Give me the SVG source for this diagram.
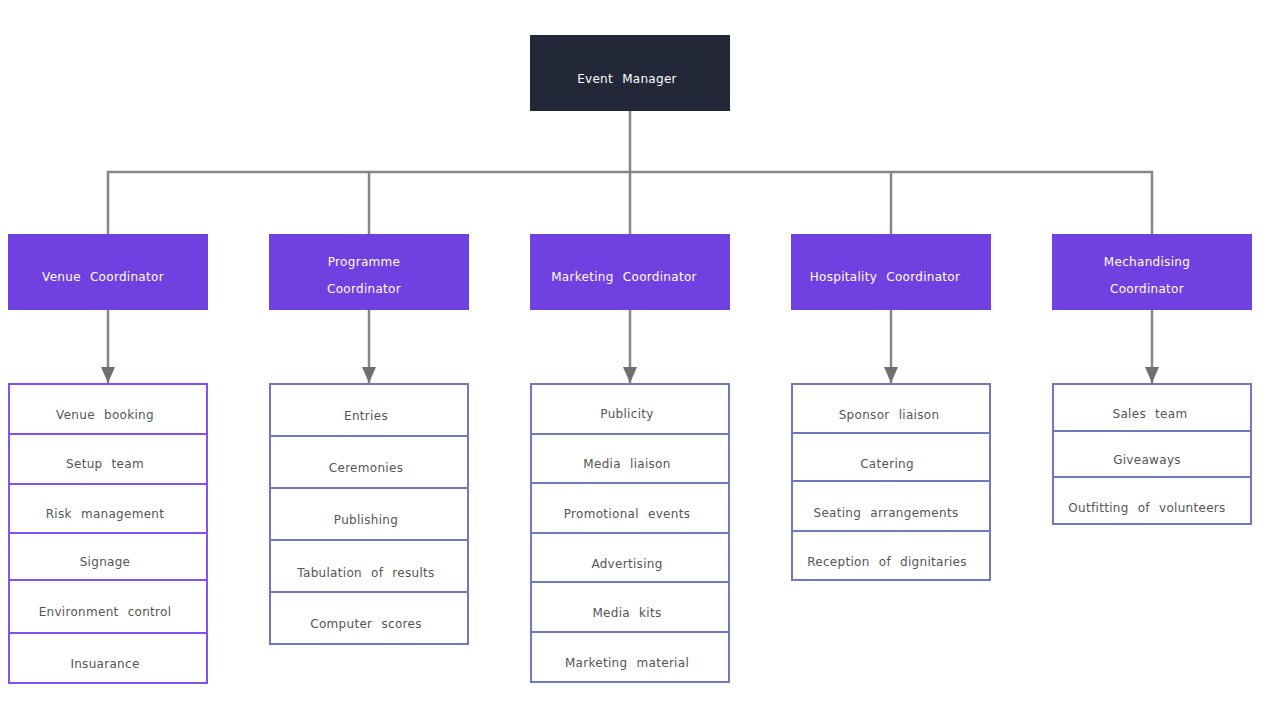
<svg xmlns="http://www.w3.org/2000/svg" width="1280" height="720" viewBox="0 0 1280 720">
<style>
.top{fill:#222838;}
.coord{fill:#7140E0;}
.wt{fill:#ffffff;font-family:"DejaVu Sans",sans-serif;font-size:12px;text-anchor:middle;word-spacing:5px;letter-spacing:0.3px;}
.item{fill:#ffffff;stroke:#7078C0;stroke-width:2;}
.itemv{fill:#ffffff;stroke:#8450F0;stroke-width:2;}
.gt{fill:#555555;font-family:"DejaVu Sans",sans-serif;font-size:12px;text-anchor:middle;word-spacing:5px;letter-spacing:0.3px;}
.conn{stroke:#868686;stroke-width:2.5;fill:none;}
</style>
<defs>
<marker id="arr" viewBox="0 0 10 10" refX="9" refY="5" markerWidth="6" markerHeight="6" markerUnits="userSpaceOnUse" orient="auto">
<path d="M0,0 L10,5 L0,10 z" fill="#707070"/>
</marker>
<marker id="ah" viewBox="0 0 16 14" refX="16" refY="7" markerWidth="16" markerHeight="14" markerUnits="userSpaceOnUse" orient="auto">
<path d="M0,0 L16,7 L0,14 z" fill="#707070"/>
</marker>
</defs>
<g id="connectors">
<path class="conn" d="M630,111 V234"/>
<path class="conn" d="M108,234 V172 H1152 V234"/>
<path class="conn" d="M369,172 V234"/>
<path class="conn" d="M891,172 V234"/>
<path class="conn" d="M108,310 V383" marker-end="url(#ah)"/>
<path class="conn" d="M369,310 V383" marker-end="url(#ah)"/>
<path class="conn" d="M630,310 V383" marker-end="url(#ah)"/>
<path class="conn" d="M891,310 V383" marker-end="url(#ah)"/>
<path class="conn" d="M1152,310 V383" marker-end="url(#ah)"/>
</g>
<g id="event-manager">
<rect class="top" x="530" y="35" width="200" height="76"/>
<text class="wt" x="627" y="83">Event Manager</text>
</g>
<g id="venue-coordinator">
<rect class="coord" x="8" y="234" width="200" height="76"/>
<text class="wt" x="103" y="281">Venue Coordinator</text>
</g>
<g id="programme-coordinator">
<rect class="coord" x="269" y="234" width="200" height="76"/>
<text class="wt" x="364" y="266">Programme</text>
<text class="wt" x="364" y="293">Coordinator</text>
</g>
<g id="marketing-coordinator">
<rect class="coord" x="530" y="234" width="200" height="76"/>
<text class="wt" x="624" y="281">Marketing Coordinator</text>
</g>
<g id="hospitality-coordinator">
<rect class="coord" x="791" y="234" width="200" height="76"/>
<text class="wt" x="885" y="281">Hospitality Coordinator</text>
</g>
<g id="merchandising-coordinator">
<rect class="coord" x="1052" y="234" width="200" height="76"/>
<text class="wt" x="1147" y="266">Mechandising</text>
<text class="wt" x="1147" y="293">Coordinator</text>
</g>
<g id="venue-list">
<rect class="itemv" x="9" y="384" width="198" height="50"/>
<text class="gt" x="105" y="419">Venue booking</text>
<rect class="itemv" x="9" y="434" width="198" height="50"/>
<text class="gt" x="105" y="468">Setup team</text>
<rect class="itemv" x="9" y="484" width="198" height="49"/>
<text class="gt" x="105" y="518">Risk management</text>
<rect class="itemv" x="9" y="533" width="198" height="47"/>
<text class="gt" x="105" y="566">Signage</text>
<rect class="itemv" x="9" y="580" width="198" height="53"/>
<text class="gt" x="105" y="616">Environment control</text>
<rect class="itemv" x="9" y="633" width="198" height="50"/>
<text class="gt" x="105" y="668">Insuarance</text>
</g>
<g id="programme-list">
<rect class="item" x="270" y="384" width="198" height="52"/>
<text class="gt" x="366" y="420">Entries</text>
<rect class="item" x="270" y="436" width="198" height="52"/>
<text class="gt" x="366" y="472">Ceremonies</text>
<rect class="item" x="270" y="488" width="198" height="52"/>
<text class="gt" x="366" y="524">Publishing</text>
<rect class="item" x="270" y="540" width="198" height="52"/>
<text class="gt" x="366" y="577">Tabulation of results</text>
<rect class="item" x="270" y="592" width="198" height="52"/>
<text class="gt" x="366" y="628">Computer scores</text>
</g>
<g id="marketing-list">
<rect class="item" x="531" y="384" width="198" height="50"/>
<text class="gt" x="627" y="418">Publicity</text>
<rect class="item" x="531" y="434" width="198" height="49"/>
<text class="gt" x="627" y="468">Media liaison</text>
<rect class="item" x="531" y="483" width="198" height="50"/>
<text class="gt" x="627" y="518">Promotional events</text>
<rect class="item" x="531" y="533" width="198" height="49"/>
<text class="gt" x="627" y="568">Advertising</text>
<rect class="item" x="531" y="582" width="198" height="50"/>
<text class="gt" x="627" y="617">Media kits</text>
<rect class="item" x="531" y="632" width="198" height="50"/>
<text class="gt" x="627" y="667">Marketing material</text>
</g>
<g id="hospitality-list">
<rect class="item" x="792" y="384" width="198" height="49"/>
<text class="gt" x="889" y="419">Sponsor liaison</text>
<rect class="item" x="792" y="433" width="198" height="48"/>
<text class="gt" x="887" y="468">Catering</text>
<rect class="item" x="792" y="481" width="198" height="50"/>
<text class="gt" x="886" y="517">Seating arrangements</text>
<rect class="item" x="792" y="531" width="198" height="49"/>
<text class="gt" x="887" y="566">Reception of dignitaries</text>
</g>
<g id="merchandising-list">
<rect class="item" x="1053" y="384" width="198" height="47"/>
<text class="gt" x="1150" y="418">Sales team</text>
<rect class="item" x="1053" y="431" width="198" height="46"/>
<text class="gt" x="1147" y="464">Giveaways</text>
<rect class="item" x="1053" y="477" width="198" height="47"/>
<text class="gt" x="1147" y="512">Outfitting of volunteers</text>
</g>
</svg>
